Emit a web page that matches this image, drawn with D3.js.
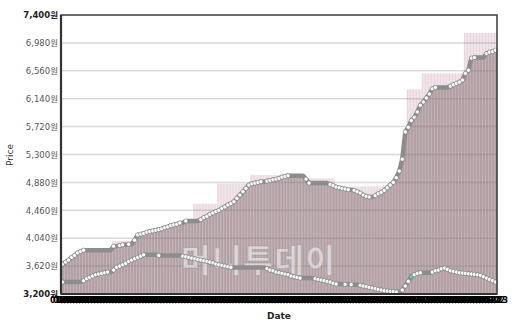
<!DOCTYPE html>
<html>
<head>
<meta charset="utf-8">
<script src="https://cdn.jsdelivr.net/npm/d3@7"></script>
<style>
  body { margin: 0; background: #fff; }
  svg { display: block; font-family: "DejaVu Sans", Verdana, sans-serif; }
</style>
</head>
<body>
<div id="chart"></div>
<script>
// valeurs (prix de cloture, plus haut, ligne basse)
const closePrice = [
  3650,3680,3710,3750,3780,3820,3840,3860,3860,3860,3860,3860,3860,3860,3860,3860,3860,3920,3920,3930,
  3940,3940,3950,3950,4010,4090,4100,4110,4130,4140,4150,4160,4170,4180,4200,4210,4230,4240,4250,4270,
  4270,4300,4300,4300,4300,4300,4320,4350,4370,4400,4420,4440,4460,4490,4510,4540,4560,4590,4640,4690,
  4740,4790,4840,4860,4870,4880,4890,4890,4900,4910,4920,4930,4940,4960,4970,4980,4980,4980,4980,4980,
  4980,4930,4870,4870,4870,4870,4870,4870,4870,4850,4830,4810,4800,4790,4780,4770,4770,4760,4740,4720,
  4690,4670,4660,4660,4680,4710,4730,4760,4800,4840,4880,4950,5050,5230,5640,5710,5810,5860,5940,6040,
  6090,6150,6210,6290,6310,6310,6310,6310,6310,6330,6350,6370,6390,6420,6520,6570,6750,6760,6760,6760,
  6760,6820,6840,6850,6870
];
const highPrice = [
  3650,3680,3710,3750,3780,3820,3840,3860,3860,3860,3860,3860,3860,3860,3860,3860,3860,4000,4000,4000,
  4000,4000,4000,4000,4010,4090,4100,4110,4130,4140,4150,4160,4170,4180,4200,4210,4230,4240,4250,4270,
  4270,4300,4300,4300,4560,4560,4560,4560,4560,4560,4560,4560,4860,4860,4860,4860,4860,4860,4860,4860,
  4860,4860,4860,4990,4990,4990,4990,4990,4990,4990,4990,4990,4990,5010,5010,5010,5010,5010,5010,5010,
  4980,4930,4940,4940,4940,4940,4940,4940,4940,4940,4940,4810,4800,4790,4780,4770,4770,4820,4820,4820,
  4820,4820,4820,4820,4820,4820,4820,4840,4840,4840,4880,4950,5050,5230,5640,6280,6280,6280,6280,6280,
  6520,6520,6520,6520,6520,6520,6520,6520,6520,6520,6520,6520,6520,6520,7130,7130,7130,7130,7130,7130,
  7130,7130,7130,7130,7130
];
const lowLine = [
  3380,3380,3380,3380,3380,3380,3380,3400,3430,3450,3470,3490,3500,3510,3520,3530,3530,3560,3600,3620,
  3640,3660,3690,3710,3730,3750,3770,3790,3790,3790,3790,3790,3780,3780,3780,3780,3780,3780,3780,3780,
  3770,3760,3750,3740,3730,3720,3710,3700,3690,3680,3670,3650,3640,3630,3620,3610,3600,3600,3600,3600,
  3600,3600,3600,3600,3600,3600,3600,3600,3580,3560,3550,3530,3520,3510,3500,3490,3470,3460,3450,3440,
  3440,3440,3440,3440,3430,3420,3410,3400,3390,3380,3360,3350,3350,3350,3345,3345,3340,3340,3340,3330,
  3320,3310,3300,3290,3280,3270,3260,3250,3245,3240,3235,3230,3230,3260,3320,3390,3460,3490,3510,3520,
  3520,3520,3520,3530,3550,3560,3580,3590,3570,3550,3540,3530,3520,3515,3510,3505,3500,3495,3490,3480,
  3460,3440,3420,3400,3380
];
const yTicks = [3200, 3620, 4040, 4460, 4880, 5300, 5720, 6140, 6560, 6980, 7400];
const highlightIndex = 116;   // point turquoise sur la ligne basse
const startDate = "2009-01-02";
const watermark = "머니투데이";

// dates de bourse (jours ouvres) pour les categories
const dates = d3.utcDay.range(new Date(startDate), new Date("2009-12-31"))
  .filter(d => d.getUTCDay() !== 0 && d.getUTCDay() !== 6)
  .slice(0, closePrice.length);
const fmt = d3.utcFormat("%m/%d");

const margin = {top: 15, right: 23, bottom: 28, left: 61},
    width = 520 - margin.left - margin.right,
    plotH = 279;

const svg = d3.select("#chart")
  .append("svg")
  .attr("width", 520)
  .attr("height", 322);

const g = svg.append("g")
  .attr("transform", `translate(${margin.left},${margin.top})`);

const idx = d3.range(closePrice.length);
const x = d3.scaleBand().domain(idx).range([0, width]).padding(0);
const y = d3.scaleLinear().domain([3200, 7400]).range([plotH, 0]);
const bw = x.bandwidth();

// barres claires (plus haut)
g.selectAll("rect.high")
  .data(idx)
  .join("rect")
  .attr("class", "high")
  .attr("x", i => x(i))
  .attr("y", i => y(highPrice[i]))
  .attr("width", bw + 0.2)
  .attr("height", i => plotH - y(highPrice[i]))
  .style("fill", "#f1e4ea");

// barres foncees (cloture)
g.selectAll("rect.close")
  .data(idx)
  .join("rect")
  .attr("class", "close")
  .attr("x", i => x(i))
  .attr("y", i => y(closePrice[i]))
  .attr("width", bw + 0.2)
  .attr("height", i => plotH - y(closePrice[i]))
  .style("fill", "#b2a1a4");

// rayures verticales
g.selectAll("line.stripe")
  .data(idx)
  .join("line")
  .attr("class", "stripe")
  .attr("x1", i => x(i) + 0.5)
  .attr("x2", i => x(i) + 0.5)
  .attr("y1", i => y(highPrice[i]))
  .attr("y2", plotH)
  .style("stroke", "#d9c6ce")
  .style("stroke-opacity", 0.45)
  .style("stroke-width", 1);

// grille horizontale
g.selectAll("line.grid")
  .data(yTicks.slice(1, -1))
  .join("line")
  .attr("class", "grid")
  .attr("x1", 0).attr("x2", width)
  .attr("y1", d => y(d)).attr("y2", d => y(d))
  .style("stroke", "#7a7a7a")
  .style("stroke-opacity", 0.28)
  .style("stroke-width", 1.5);

// filigrane
g.append("text")
  .attr("x", 197)
  .attr("y", 257)
  .attr("text-anchor", "middle")
  .attr("textLength", 154)
  .style("font-family", "'Noto Sans CJK KR', sans-serif")
  .style("font-weight", 700)
  .style("font-size", "32px")
  .style("fill", "#ffffff")
  .style("fill-opacity", 0.5)
  .style("stroke", "#8a8a8a")
  .style("stroke-opacity", 0.4)
  .style("stroke-width", 0.8)
  .text(watermark);

// lignes
const cx = i => x(i) + bw / 2;
const lineGen = arr => d3.line().x(cx).y(i => y(arr[i]));

[lowLine, closePrice].forEach(arr => {
  g.append("path")
    .datum(idx)
    .attr("d", lineGen(arr))
    .style("fill", "none")
    .style("stroke", "#8d8d8d")
    .style("stroke-width", 4.5)
    .style("stroke-linejoin", "round");

  g.selectAll(null)
    .data(idx.filter(i => i > 0 && arr[i] !== arr[i - 1] || i === arr.length - 1 || i === 0))
    .join("circle")
    .attr("cx", cx)
    .attr("cy", i => y(arr[i]))
    .attr("r", 2.1)
    .style("fill", i => (arr === lowLine && i === highlightIndex) ? "#5fd0d0" : "#fff")
    .style("stroke", "#7a7a7a")
    .style("stroke-width", 0.6);
});

// cadre
g.append("rect")
  .attr("x", 0).attr("y", 0)
  .attr("width", width).attr("height", plotH)
  .style("fill", "none")
  .style("stroke", "#3a3a3a")
  .style("stroke-width", 1.5);
g.append("line")
  .attr("x1", 0).attr("x2", 0).attr("y1", 0).attr("y2", plotH)
  .style("stroke", "#333").style("stroke-width", 2.2);
g.append("line")
  .attr("x1", 0).attr("x2", width).attr("y1", plotH).attr("y2", plotH)
  .style("stroke", "#333").style("stroke-width", 2.2);

// Axe Y : etiquettes
const yAxis = g.append("g")
  .call(d3.axisLeft(y).tickValues(yTicks).tickSize(0).tickPadding(3)
    .tickFormat(d => d3.format(",")(d) + "원"));
yAxis.select(".domain").remove();
yAxis.selectAll("text")
  .style("font-family", "'DejaVu Sans', 'Noto Sans CJK KR', sans-serif")
  .style("font-size", "8.5px")
  .style("font-weight", d => (d === 3200 || d === 7400) ? "bold" : "normal")
  .style("fill", d => (d === 3200 || d === 7400) ? "#222" : "#555");

// Axe X : dates (serrees, illisibles comme sur l'original)
const xAxis = g.append("g")
  .attr("transform", `translate(0, ${plotH})`)
  .call(d3.axisBottom(x).tickSize(0).tickPadding(3).tickFormat(i => fmt(dates[i])));
xAxis.select(".domain").remove();
xAxis.selectAll("text")
  .style("font-family", "'DejaVu Sans', sans-serif")
  .style("font-size", "8px")
  .style("font-weight", "bold")
  .style("fill", "#000");

// titres des axes
svg.append("text")
  .attr("transform", "translate(13, 155) rotate(-90)")
  .attr("text-anchor", "middle")
  .style("font-size", "9px")
  .style("fill", "#333")
  .text("Price");
svg.append("text")
  .attr("x", 279)
  .attr("y", 319)
  .attr("text-anchor", "middle")
  .style("font-size", "9px")
  .style("font-weight", "bold")
  .style("fill", "#222")
  .text("Date");
</script>
</body>
</html>
